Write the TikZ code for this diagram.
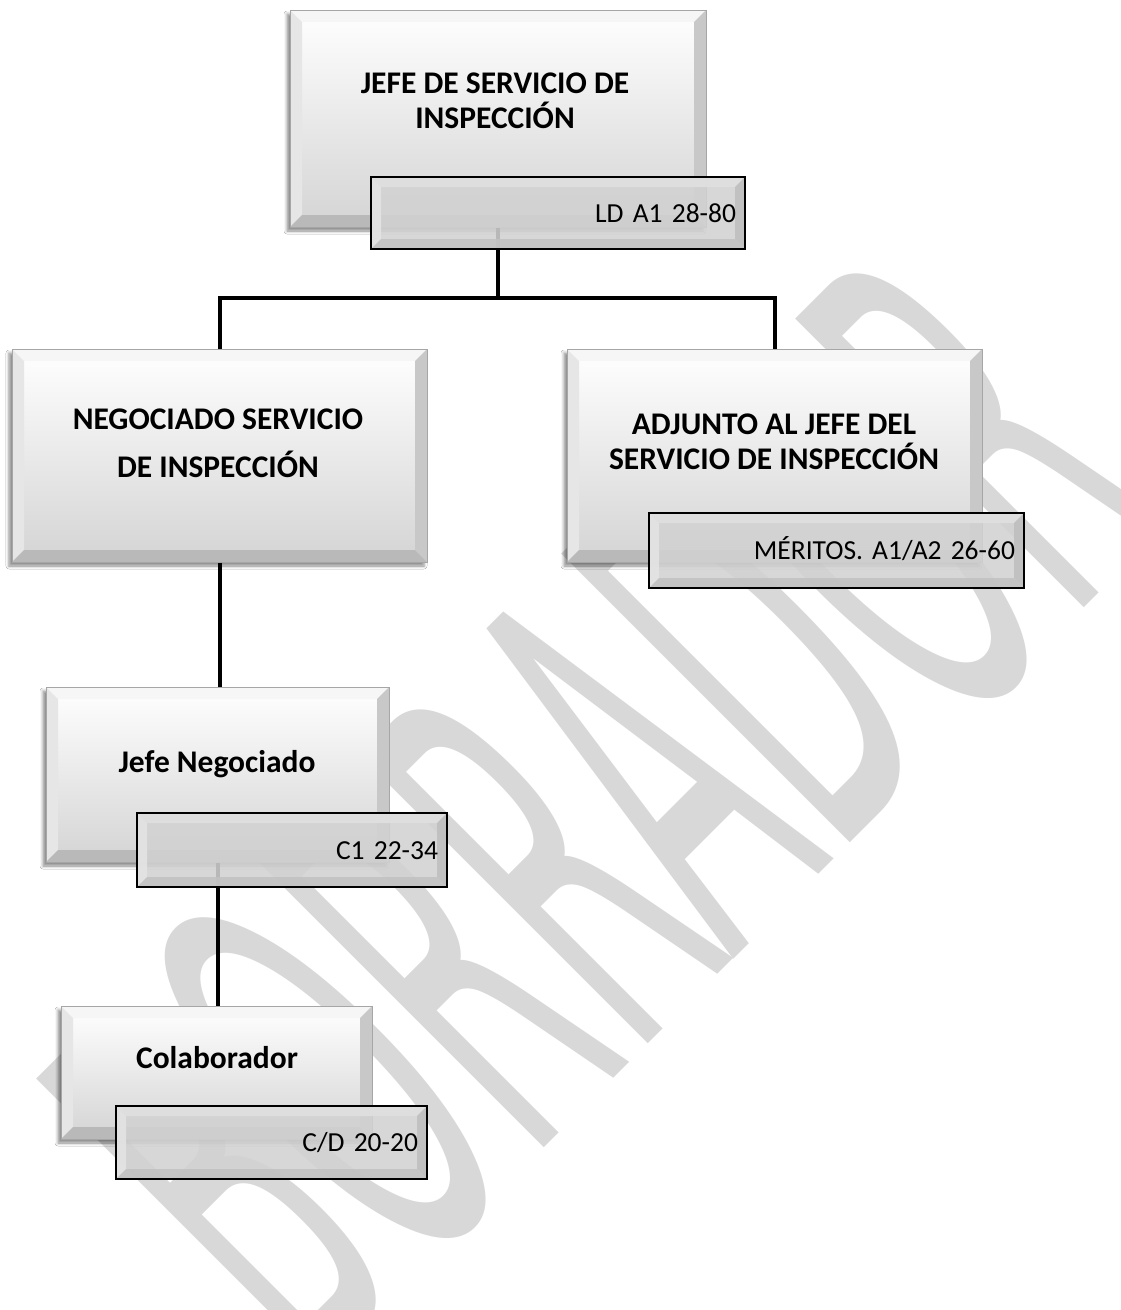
\documentclass[tikz,border=0pt]{standalone}
\usepackage{fontspec}
\setmainfont{Carlito}
\newfontfamily\wmfont{DejaVu Sans}
\usepackage{graphicx}
\usetikzlibrary{shadows.blur}
\frenchspacing

\definecolor{bevtop}{HTML}{F6F6F6}
\definecolor{bevleft}{HTML}{E6E6E6}
\definecolor{bevright}{HTML}{C8C8C8}
\definecolor{bevbot}{HTML}{B9B9B9}
\definecolor{facebot}{HTML}{D4D4D4}
\definecolor{tagface}{HTML}{D2D2D2}
\definecolor{tagtop}{HTML}{E0E0E0}
\definecolor{tagleft}{HTML}{E4E4E4}
\definecolor{tagright}{HTML}{BEBEBE}
\definecolor{tagbot}{HTML}{C2C2C2}
\definecolor{wmgray}{HTML}{D8D8D8}

\newcommand{\titlefont}{\fontsize{31.5}{35}\selectfont\bfseries}
\newcommand{\tagfont}{\fontsize{27.5}{33}\selectfont}

% four bevel strips inside a node (used in path picture)
\newcommand{\bevelstrips}[5]{%
  \coordinate (pp-nw) at (path picture bounding box.north west);
  \coordinate (pp-ne) at (path picture bounding box.north east);
  \coordinate (pp-sw) at (path picture bounding box.south west);
  \coordinate (pp-se) at (path picture bounding box.south east);
  \fill[#2] (pp-nw) -- (pp-ne) -- ([shift={(-#1,-#1)}]pp-ne) -- ([shift={(#1,-#1)}]pp-nw) -- cycle;
  \fill[#3] (pp-nw) -- (pp-sw) -- ([shift={(#1,#1)}]pp-sw) -- ([shift={(#1,-#1)}]pp-nw) -- cycle;
  \fill[#4] (pp-ne) -- (pp-se) -- ([shift={(-#1,#1)}]pp-se) -- ([shift={(-#1,-#1)}]pp-ne) -- cycle;
  \fill[#5] (pp-sw) -- (pp-se) -- ([shift={(-#1,#1)}]pp-se) -- ([shift={(#1,#1)}]pp-sw) -- cycle;
}

\tikzset{
  box/.style={draw=gray!70, line width=1pt, top color=white, bottom color=facebot,
    inner sep=0pt,
    blur shadow={shadow xshift=-3pt, shadow yshift=-4pt, shadow blur radius=3pt, shadow opacity=45},
    path picture={\bevelstrips{12pt}{bevtop}{bevleft}{bevright}{bevbot}}},
  tag/.style={draw=black, line width=2.5pt, fill=tagface, fill opacity=0.88, text opacity=1,
    align=right, inner xsep=9pt, inner ysep=0pt, text height=18pt, text depth=0pt,
    font=\tagfont,
    path picture={\bevelstrips{10pt}{tagtop}{tagleft}{tagright}{tagbot}}},
  title/.style={align=center, font=\titlefont, inner sep=0pt},
  link/.style={line width=4pt, black},
  watermark/.style={text=wmgray, rotate=45, inner sep=0pt}
}

\begin{document}
\begin{tikzpicture}[x=1pt, y=-1pt]
    \useasboundingbox (0,0) rectangle (1120,1310);
    \clip (0,0) rectangle (1120,1310);
    \fill[white] (0,0) rectangle (1120,1310);

    % watermark
    \node[watermark] (borrador) at (598,806)
        {\scalebox{0.38}[1]{\wmfont\fontsize{560}{560}\selectfont BORRADOR}};

    % boxes
    \node[box, minimum width=416pt, minimum height=217pt] (jefe) at (498,118.5) {};
    \node[box, minimum width=415pt, minimum height=213pt] (negociado) at (219.5,455.5) {};
    \node[box, minimum width=415pt, minimum height=213pt] (adjunto) at (774.5,455.5) {};
    \node[box, minimum width=343pt, minimum height=175pt] (jefeneg) at (217.5,774.5) {};
    \node[box, minimum width=311pt, minimum height=133pt] (colab) at (216.5,1072.5) {};

    \node[title] (jefe-txt) at (495,101) {JEFE DE SERVICIO DE\\INSPECCIÓN};
    \node[title] (negociado-txt) at (218,443) {NEGOCIADO SERVICIO\\[13pt]DE INSPECCIÓN};
    \node[title] (adjunto-txt) at (774,442) {ADJUNTO AL JEFE DEL\\SERVICIO DE INSPECCIÓN};
    \node[title, anchor=base] (jefeneg-txt) at (217,772) {Jefe Negociado};
    \node[title, anchor=base] (colab-txt) at (217,1068) {Colaborador};

    % connectors
    \draw[link] (jefe.south) -- ++(0,70) -| (negociado.north);
    \draw[link] (jefe.south) -- ++(0,70) -| (adjunto.north);
    \draw[link] (negociado.south) -- (negociado.south |- jefeneg.north);
    \draw[link] (jefeneg.south) -- (jefeneg.south |- colab.north);

    % level tags
    \node[tag, minimum height=72pt, text width=356pt] (jefe-tag) at (558,213) {LD A1 28-80};
    \node[tag, minimum height=75pt, text width=357pt] (adjunto-tag) at (836.5,550.5) {MÉRITOS. A1/A2 26-60};
    \node[tag, minimum height=74pt, text width=292pt] (jefeneg-tag) at (292,850) {C1 22-34};
    \node[tag, minimum height=73pt, text width=293pt] (colab-tag) at (271.5,1142.5) {C/D 20-20};
\end{tikzpicture}
\end{document}
